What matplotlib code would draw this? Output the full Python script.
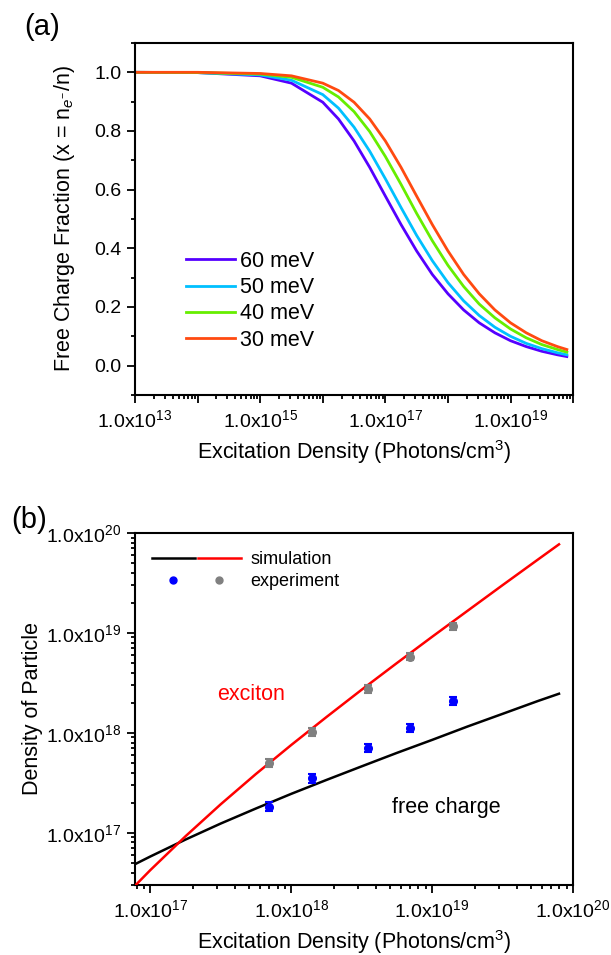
import matplotlib
matplotlib.use('Agg')
import matplotlib.pyplot as plt
import numpy as np
from matplotlib.ticker import (LogLocator, FuncFormatter, MultipleLocator, NullFormatter,
                               FormatStrFormatter, FixedLocator)
from matplotlib.lines import Line2D
from matplotlib.legend_handler import HandlerTuple

plt.rcParams['font.family'] = ['Liberation Sans', 'DejaVu Sans']
plt.rcParams['mathtext.fontset'] = 'custom'
plt.rcParams['mathtext.rm'] = 'Liberation Sans'
plt.rcParams['mathtext.it'] = 'Liberation Sans:italic'
plt.rcParams['mathtext.bf'] = 'Liberation Sans:bold'

# ---------------- Panel (a) data ----------------
density_a = [1.0e13, 1.0e14, 1.0e15, 3.16e15, 1.0e16, 1.78e16, 3.16e16, 5.62e16,
             1.0e17, 1.78e17, 3.16e17, 5.62e17, 1.0e18, 1.78e18, 3.16e18, 5.62e18,
             1.0e19, 1.78e19, 3.16e19, 5.62e19, 7.94e19]
frac_60 = [1.000, 0.999, 0.988, 0.963, 0.898, 0.841, 0.766, 0.676, 0.578, 0.481, 0.391,
           0.311, 0.245, 0.190, 0.146, 0.112, 0.085, 0.065, 0.049, 0.037, 0.031]
frac_50 = [1.000, 0.999, 0.991, 0.973, 0.924, 0.878, 0.813, 0.731, 0.637, 0.539, 0.444,
           0.358, 0.283, 0.221, 0.171, 0.131, 0.100, 0.076, 0.058, 0.044, 0.037]
frac_40 = [1.000, 0.999, 0.994, 0.983, 0.949, 0.916, 0.866, 0.798, 0.713, 0.618, 0.519,
           0.426, 0.342, 0.270, 0.210, 0.163, 0.125, 0.095, 0.072, 0.055, 0.046]
frac_30 = [1.000, 1.000, 0.996, 0.988, 0.963, 0.938, 0.898, 0.841, 0.766, 0.676, 0.578,
           0.481, 0.391, 0.311, 0.245, 0.190, 0.146, 0.112, 0.085, 0.065, 0.055]
binding_labels = ['60 meV', '50 meV', '40 meV', '30 meV']
curve_colors = ['#5500FF', '#00C0FF', '#66EE00', '#FF4A10']
xticks_a = [1e13, 1e14, 1e15, 1e16, 1e17, 1e18, 1e19, 1e20]

# ---------------- Panel (b) data ----------------
density_b = [7.76e16, 1.0e17, 1.78e17, 3.16e17, 5.62e17, 1.0e18, 1.78e18, 3.16e18,
             5.62e18, 1.0e19, 1.78e19, 3.16e19, 5.62e19, 7.94e19]
free_sim = [4.83e16, 5.78e16, 8.55e16, 1.236e17, 1.749e17, 2.45e17, 3.378e17, 4.617e17,
            6.298e17, 8.5e17, 1.156e18, 1.549e18, 2.081e18, 2.462e18]
exciton_sim = [2.93e16, 4.22e16, 9.23e16, 1.926e17, 3.874e17, 7.55e17, 1.440e18, 2.700e18,
               4.993e18, 9.15e18, 1.662e19, 3.007e19, 5.415e19, 7.697e19]
exp_density = [7.0e17, 1.4e18, 3.5e18, 7.0e18, 1.4e19]
exp_exciton = [5.0e17, 1.02e18, 2.75e18, 5.8e18, 1.17e19]
exp_exciton_err = [0.5e17, 1.0e17, 2.5e17, 5.0e17, 1.0e18]
exp_free = [1.83e17, 3.5e17, 7.1e17, 1.12e18, 2.1e18]
exp_free_err = [0.18e17, 0.35e17, 0.7e17, 1.1e17, 2.0e17]
ticks_b = [1e17, 1e18, 1e19, 1e20]

TICK_FS = 14
LABEL_FS = 15.5


def sci_label(v, pos, only_odd=False):
    if v <= 0:
        return ''
    e = int(round(np.log10(v)))
    if only_odd and e % 2 == 0:
        return ''
    return '1.0x10$^{%d}$' % e


def style_axes(ax):
    for s in ax.spines.values():
        s.set_linewidth(1.5)
    ax.tick_params(which='both', direction='out', top=False, right=False, width=1.3)
    ax.tick_params(which='major', length=5.5, labelsize=TICK_FS, pad=4.5)
    ax.tick_params(which='minor', length=3)


fig = plt.figure(figsize=(6.11, 9.55), dpi=100)

# ---------------- Panel (a) ----------------
ax1 = fig.add_axes([0.221, 0.5864, 0.717, 0.3686])
for y, lab, c in zip([frac_60, frac_50, frac_40, frac_30], binding_labels, curve_colors):
    ax1.plot(density_a, y, color=c, lw=2.0, label=lab)
ax1.set_xscale('log')
ax1.set_xlim(1e13, 1e20)
ax1.set_ylim(-0.1, 1.1)
ax1.xaxis.set_major_locator(FixedLocator(xticks_a))
ax1.xaxis.set_minor_locator(LogLocator(base=10, subs=np.arange(2, 10), numticks=20))
ax1.xaxis.set_major_formatter(FuncFormatter(lambda v, p: sci_label(v, p, True)))
ax1.xaxis.set_minor_formatter(NullFormatter())
ax1.yaxis.set_major_locator(MultipleLocator(0.2))
ax1.yaxis.set_minor_locator(MultipleLocator(0.1))
ax1.yaxis.set_major_formatter(FormatStrFormatter('%.1f'))
style_axes(ax1)
ax1.set_xlabel('Excitation Density (Photons/cm$^3$)', fontsize=LABEL_FS)
ax1.set_ylabel('Free Charge Fraction (x = n$_{e^{-}}$/n)', fontsize=LABEL_FS)
ax1.xaxis.set_label_coords(0.5, -0.162)
ax1.xaxis.label.set_verticalalignment('center')
ax1.yaxis.set_label_coords(-0.162, 0.5)
ax1.yaxis.label.set_verticalalignment('center')
ax1.legend(loc='upper left', bbox_to_anchor=(0.1155, 0.41), frameon=False,
           fontsize=LABEL_FS, handlelength=2.3, handletextpad=0.23,
           labelspacing=0.25, borderpad=0, borderaxespad=0)

# ---------------- Panel (b) ----------------
ax2 = fig.add_axes([0.221, 0.0733, 0.717, 0.3686])
ax2.plot(density_b, free_sim, color='black', lw=1.8, zorder=2)
ax2.plot(density_b, exciton_sim, color='#FF0000', lw=1.8, zorder=3)
ax2.errorbar(exp_density, exp_free, yerr=exp_free_err, fmt='o', color='#0000FF',
             ms=5.5, capsize=3, elinewidth=1.8, capthick=1.5, zorder=5)
ax2.errorbar(exp_density, exp_exciton, yerr=exp_exciton_err, fmt='o', color='#808080',
             ms=5.5, capsize=3, elinewidth=1.8, capthick=1.5, zorder=5)
ax2.set_xscale('log')
ax2.set_yscale('log')
ax2.set_xlim(7.8e16, 1e20)
ax2.set_ylim(3e16, 1e20)
for axis in (ax2.xaxis, ax2.yaxis):
    axis.set_major_locator(FixedLocator(ticks_b))
    axis.set_minor_locator(LogLocator(base=10, subs=np.arange(2, 10), numticks=20))
    axis.set_major_formatter(FuncFormatter(lambda v, p: sci_label(v, p, False)))
    axis.set_minor_formatter(NullFormatter())
style_axes(ax2)
ax2.set_xlabel('Excitation Density (Photons/cm$^3$)', fontsize=LABEL_FS)
ax2.set_ylabel('Density of Particle', fontsize=LABEL_FS)
ax2.xaxis.set_label_coords(0.5, -0.162)
ax2.xaxis.label.set_verticalalignment('center')
ax2.yaxis.set_label_coords(-0.233, 0.5)
ax2.yaxis.label.set_verticalalignment('center')

ax2.text(0.1865, 0.54, 'exciton', color='#FF0000', fontsize=LABEL_FS,
         transform=ax2.transAxes, ha='left', va='center')
ax2.text(0.587, 0.219, 'free charge', color='black', fontsize=LABEL_FS,
         transform=ax2.transAxes, ha='left', va='center')

sim_handles = (Line2D([], [], color='black', lw=1.8), Line2D([], [], color='#FF0000', lw=1.8))
exp_handles = (Line2D([], [], color='#0000FF', marker='o', ls='none', ms=5),
               Line2D([], [], color='#808080', marker='o', ls='none', ms=5))
ax2.legend([sim_handles, exp_handles], ['simulation', 'experiment'],
           handler_map={tuple: HandlerTuple(ndivide=None, pad=0.17)},
           loc='upper left', bbox_to_anchor=(0.038, 0.948), frameon=False,
           fontsize=13, handlelength=4.95, handletextpad=0.5, labelspacing=0.27,
           borderpad=0, borderaxespad=0)

fig.text(0.0687, 0.9717, '(a)', fontsize=21, ha='center', va='center')
fig.text(0.048, 0.4555, '(b)', fontsize=21, ha='center', va='center')

fig.savefig('out.png', dpi=100)
